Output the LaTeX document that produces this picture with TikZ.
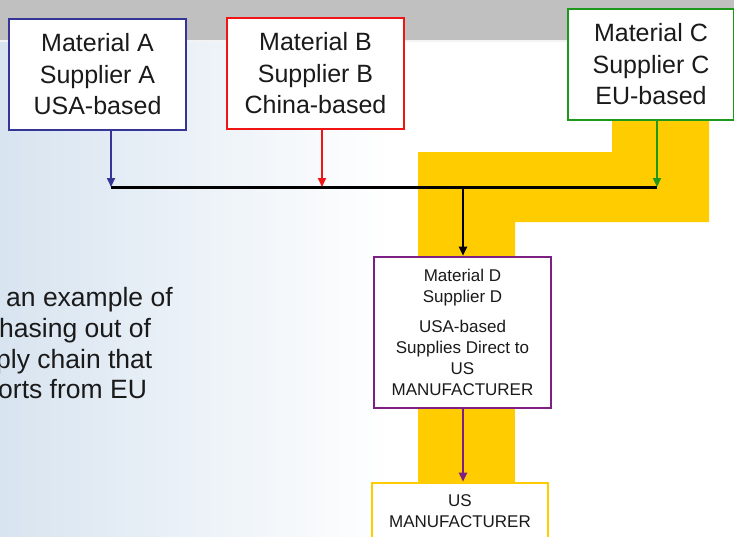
\documentclass[tikz,border=0pt]{standalone}
\usepackage{fontspec}
\setmainfont{Liberation Sans}
\usetikzlibrary{arrows.meta}

\definecolor{barGray}{HTML}{C0C0C0}
\definecolor{paleBlue}{HTML}{D8E4F0}
\definecolor{boxBlue}{HTML}{353597}
\definecolor{boxRed}{HTML}{F01414}
\definecolor{boxGreen}{HTML}{1C991C}
\definecolor{boxPurple}{HTML}{7E1F82}
\definecolor{routeGold}{HTML}{FFCC00}
\definecolor{inkDark}{HTML}{1A1A1A}

\tikzset{
  supplier/.style={draw, line width=2.6pt, fill=white, inner sep=0pt,
    align=center, text=inkDark, minimum width=177pt, minimum height=111pt,
    font=\fontsize{25}{31.5}\selectfont},
  smallbox/.style={draw, line width=2.6pt, fill=white, inner sep=0pt,
    align=center, text=inkDark, font=\fontsize{17}{21}\selectfont},
  feed/.style={line width=2pt, -{Triangle[length=9pt,width=8pt]}},
  note/.style={anchor=base west, inner sep=0pt, text=inkDark,
    font=\fontsize{26.5}{31}\selectfont}
}

\begin{document}
\begin{tikzpicture}[x=1pt,y=-1pt]
\useasboundingbox (0,0) rectangle (734,536);

% backdrop: pale blue fading to white, grey band along the top
\fill[white] (0,0) rectangle (734,536);
\shade[left color=paleBlue, right color=white] (0,0) rectangle (390,536);
\fill[barGray] (0,0) rectangle (734,40);
\fill[white!80!barGray] (0,40) rectangle (734,42);

% highlighted supply route
\fill[routeGold] (418,258) -- (418,152) -- (612,152) -- (612,119)
  -- (709,119) -- (709,222) -- (515,222) -- (515,258) -- cycle;
\fill[routeGold] (418,407) rectangle (515,484);

% explanatory text
\node[note] (n1) at (6,306) {an example of};
\node[note] (n2) at (-1,337) {hasing out of};
\node[note] (n3) at (-4,368) {ply chain that};
\node[note] (n4) at (-2,398) {orts from EU};

% suppliers
\node[supplier, draw=boxBlue] (A) at (97.5,74.5) {Material A\\Supplier A\\USA-based};
\node[supplier, draw=boxRed] (B) at (315.5,73.5) {Material B\\Supplier B\\China-based};
\node[supplier, draw=boxGreen, minimum width=166pt] (C) at (651,64.5) {Material C\\Supplier C\\EU-based};

\node[smallbox, draw=boxPurple, minimum width=177pt, minimum height=151pt] (D) at (462.5,332.5)
  {Material D\\Supplier D\\[9pt]USA-based\\Supplies Direct to\\US\\MANUFACTURER};
\node[smallbox, draw=routeGold, minimum width=176pt, minimum height=57pt] (M) at (460,511.5)
  {US\\MANUFACTURER};

% collection bus
\coordinate (jA) at (111,187);
\coordinate (jB) at (322,187);
\coordinate (jC) at (657,187);
\coordinate (jD) at (463,187);

\draw[line width=3pt] (jA) -- (jC);
\draw[feed, boxBlue] (A.south -| jA) -- (jA);
\draw[feed, boxRed] (B.south -| jB) -- (jB);
\draw[feed, boxGreen] (C.south -| jC) -- (jC);
\draw[feed, black] (jD) -- (D.north -| jD);
\draw[feed, boxPurple] (D.south -| jD) -- (M.north -| jD);
\end{tikzpicture}
\end{document}
